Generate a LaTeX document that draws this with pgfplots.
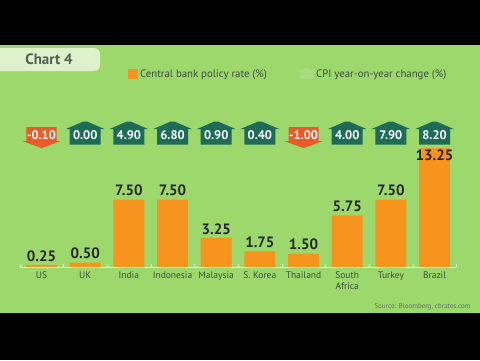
\documentclass[border=0pt]{standalone}
\usepackage{fontspec}
\setmainfont{PT Sans}
\usepackage{pgfplots}
\pgfplotsset{compat=1.18}
\usepackage{pgfplotstable}

\definecolor{bgreen}{HTML}{9CD86C}
\definecolor{barorange}{HTML}{F7941D}
\definecolor{tealc}{HTML}{1E6B58}
\definecolor{redor}{HTML}{EA5A2A}
\definecolor{tabc}{HTML}{DDF2CB}
\definecolor{txt}{HTML}{3E4E3E}

\pgfdeclareplotmark{houseup}{%
 \pgfpathmoveto{\pgfpoint{-15.5pt}{-9pt}}%
 \pgfpathlineto{\pgfpoint{15.5pt}{-9pt}}%
 \pgfpathlineto{\pgfpoint{15.5pt}{6.5pt}}%
 \pgfpathlineto{\pgfpoint{19.5pt}{6.5pt}}%
 \pgfpathlineto{\pgfpoint{2pt}{14pt}}%
 \pgfpathlineto{\pgfpoint{-2pt}{14pt}}%
 \pgfpathlineto{\pgfpoint{-19.5pt}{6.5pt}}%
 \pgfpathlineto{\pgfpoint{-15.5pt}{6.5pt}}%
 \pgfpathclose
 \pgfusepathqfill}
\pgfdeclareplotmark{housedown}{%
 \pgfpathmoveto{\pgfpoint{-15pt}{8.5pt}}%
 \pgfpathlineto{\pgfpoint{15pt}{8.5pt}}%
 \pgfpathlineto{\pgfpoint{15pt}{-5.5pt}}%
 \pgfpathlineto{\pgfpoint{19pt}{-5.5pt}}%
 \pgfpathlineto{\pgfpoint{0pt}{-12.5pt}}%
 \pgfpathlineto{\pgfpoint{-19pt}{-5.5pt}}%
 \pgfpathlineto{\pgfpoint{-15pt}{-5.5pt}}%
 \pgfpathclose
 \pgfusepathqfill}

\pgfplotstableread{
x rate lab
0 0.25 0.25
1 0.50 0.50
2 7.50 7.50
3 7.50 7.50
4 3.25 3.25
5 1.75 1.75
6 1.50 1.50
7 5.75 5.75
8 7.50 7.50
}\ratedata

\begin{document}
\begin{tikzpicture}
\useasboundingbox (0,0) rectangle (480pt,360pt);
\fill[black] (0,0) rectangle (480pt,360pt);
\fill[bgreen] (0,47pt) rectangle (480pt,315pt);
\fill[tabc, rounded corners=6pt] (-12pt,289pt) rectangle (100pt,312pt);
\node[font=\bfseries\fontsize{15}{16}\selectfont, text=txt!90] at (49pt,300.5pt) {Chart 4};
\node[anchor=east, font=\fontsize{7}{8}\selectfont, text=txt!80] at (474pt,53pt) {Source: Bloomberg, cbrates.com};

\begin{axis}[
  at={(41.5pt,93pt)}, anchor=origin,
  x=43.67pt, y=9pt,
  xmin=-0.5, xmax=9.5, ymin=0, ymax=17,
  axis x line*=bottom, axis y line=none,
  x axis line style={-, draw=white!75!bgreen, line width=0.6pt},
  xtick={0,...,9},
  xticklabels={US,UK,India,Indonesia,Malaysia,S. Korea,Thailand,South\\Africa,Turkey,Brazil},
  major tick length=0pt,
  minor xtick={-0.5,0.5,...,9.5},
  minor tick length=3pt,
  minor tick style={draw=white!75!bgreen},
  xticklabel style={font=\fontsize{9.5}{11}\selectfont, text=txt, align=center, yshift=-1pt},
  clip=false,
  legend columns=2,
  legend style={draw=none, fill=none, at={(0.241,1.261)}, anchor=west,
    font=\fontsize{10.8}{12}\selectfont, text=txt,
    /tikz/every even column/.append style={column sep=29pt}},
]
\addplot[ybar, bar width=31pt, bar shift=0pt, fill=barorange, draw=none,
  nodes near coords, point meta=explicit symbolic,
  every node near coord/.append style={font=\bfseries\fontsize{15}{16}\selectfont, text=black!85, anchor=south},
  legend image code/.code={\fill[barorange] (0pt,-4.5pt) rectangle (10pt,5.5pt);}]
  table[x=x, y=rate, meta=lab] {\ratedata};
\addlegendentry{Central bank policy rate (\%)}
\addplot[only marks, mark=housedown, mark options={fill=bgreen!88!white, draw=none},
  legend image code/.code={\fill[bgreen!88!white] (2pt,-4pt) rectangle (14pt,3pt); \fill[bgreen!88!white] (0pt,3pt) -- (8pt,7pt) -- (16pt,3pt) -- cycle;}]
  coordinates {(-5,-5)};
\addlegendentry{CPI year-on-year change (\%)}
\addplot[ybar, bar width=31pt, bar shift=0pt, fill=barorange, draw=none, forget plot,
  nodes near coords, point meta=explicit symbolic,
  every node near coord/.append style={font=\bfseries\fontsize{15}{16}\selectfont, text=black!85, anchor=north, yshift=1pt}]
  coordinates {(9,13.25) [13.25]};
\addplot[only marks, mark=houseup, mark options={fill=tealc, draw=none}, forget plot,
  nodes near coords, point meta=explicit symbolic,
  every node near coord/.append style={anchor=center, text=white, font=\bfseries\fontsize{12.5}{13}\selectfont}]
  coordinates {(1,14.6) [0.00] (2,14.6) [4.90] (3,14.6) [6.80] (4,14.6) [0.90] (5,14.6) [0.40] (7,14.6) [4.00] (8,14.6) [7.90] (9,14.6) [8.20]};
\addplot[only marks, mark=housedown, mark options={fill=redor, draw=none}, forget plot,
  nodes near coords, point meta=explicit symbolic,
  every node near coord/.append style={anchor=center, text=white, font=\bfseries\fontsize{12.5}{13}\selectfont}]
  coordinates {(0,14.6) [-0.10] (6,14.6) [-1.00]};
\end{axis}
\end{tikzpicture}
\end{document}
